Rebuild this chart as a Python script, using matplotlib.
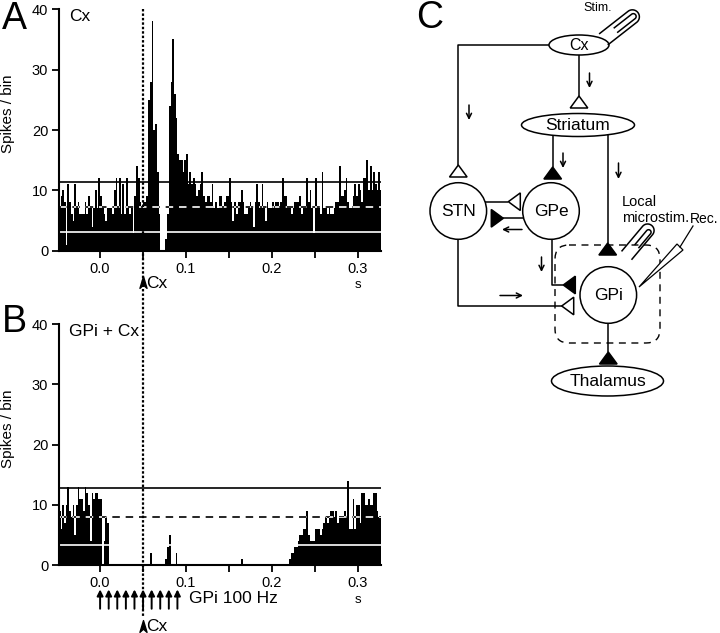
import numpy as np
import matplotlib.pyplot as plt
from matplotlib.patches import Ellipse, Circle, Polygon, FancyBboxPatch
from matplotlib.lines import Line2D
from matplotlib.path import Path
from matplotlib.transforms import blended_transform_factory

plt.rcParams['font.family'] = ['Liberation Sans', 'DejaVu Sans']

# PSTH data: 2 ms bins starting at -50 ms
bin_width = 0.002
t_start = -0.05
cx_counts = [
    8, 7, 9, 10, 8, 1, 11, 8, 6, 5,
    11, 7, 8, 6, 6, 6, 8, 6, 9, 7,
    4, 7, 10, 7, 12, 9, 7, 6, 5, 7,
    7, 7, 6, 10, 12, 7, 12, 6, 11, 6,
    12, 7, 6, 7, 3, 9, 14, 12, 8, 7,
    8, 8, 9, 25, 28, 38, 20, 21, 13, 6,
    0, 0, 0, 2, 6, 24, 28, 35, 26, 22,
    16, 15, 15, 13, 15, 16, 11, 13, 11, 12,
    11, 9, 10, 11, 13, 9, 8, 9, 9, 8,
    11, 7, 8, 7, 9, 9, 7, 8, 9, 9,
    12, 8, 5, 8, 6, 8, 8, 10, 8, 6,
    6, 7, 8, 7, 4, 8, 11, 8, 7, 11,
    7, 5, 8, 7, 7, 8, 7, 8, 8, 7,
    8, 12, 9, 9, 7, 7, 6, 7, 8, 8,
    8, 9, 6, 7, 7, 12, 8, 10, 7, 3,
    12, 7, 7, 6, 13, 7, 7, 6, 7, 6,
    6, 7, 8, 8, 14, 9, 9, 10, 12, 8,
    7, 7, 9, 11, 9, 11, 10, 8, 12, 12,
    15, 10, 14, 10, 13, 11, 10, 13, 10, 13,
]
gpi_cx_counts = [
    9, 9, 6, 10, 7, 10, 13, 9, 8, 10,
    5, 10, 13, 11, 11, 9, 13, 12, 10, 4,
    12, 11, 12, 12, 11, 11, 0, 4, 8, 7,
    0, 0, 0, 0, 0, 0, 0, 0, 0, 0,
    0, 0, 0, 0, 0, 0, 0, 0, 0, 0,
    0, 0, 0, 0, 2, 0, 0, 0, 0, 0,
    0, 0, 0, 1, 3, 5, 0, 0, 0, 2,
    0, 0, 0, 0, 0, 0, 0, 0, 0, 0,
    0, 0, 0, 0, 0, 0, 0, 0, 0, 0,
    0, 0, 0, 0, 0, 0, 0, 0, 0, 0,
    0, 0, 0, 0, 0, 0, 0, 1, 0, 0,
    0, 0, 0, 0, 0, 0, 0, 0, 0, 0,
    0, 0, 0, 0, 0, 0, 0, 0, 0, 0,
    0, 0, 0, 0, 0, 1, 2, 2, 3, 3,
    4, 5, 5, 6, 6, 9, 5, 4, 4, 4,
    6, 6, 6, 5, 6, 7, 8, 7, 8, 9,
    9, 8, 9, 7, 8, 8, 8, 9, 8, 14,
    6, 6, 11, 6, 10, 10, 7, 12, 12, 10,
    10, 11, 10, 10, 12, 12, 9, 8, 8, 7,
]
cx_upper, cx_mean, cx_lower = 11.4, 7.3, 3.1
gpi_upper, gpi_mean, gpi_lower = 12.8, 8.05, 3.35
cx_time = 0.05
gpi_train = [0.0, 0.01, 0.02, 0.03, 0.04, 0.05, 0.06, 0.07, 0.08, 0.09]
xtick_vals = [0.0, 0.1, 0.2, 0.3]
xtick_labels = ['0.0', '0.1', '0.2', '0.3']
xminor_vals = [0.05, 0.15, 0.25]
ytick_vals = [0, 10, 20, 30, 40]

W, H = 720, 633
fig = plt.figure(figsize=(W / 100, H / 100), dpi=100)


def fig_box(left, top, right, bottom):
    return [left / W, 1 - bottom / H, (right - left) / W, (bottom - top) / H]


axA = fig.add_axes(fig_box(59.3, 9.3, 381, 250.7))
axB = fig.add_axes(fig_box(59.3, 324, 381, 565.3))

arrowhead = Path([(0, 1), (0.6, -1), (0, -0.45), (-0.6, -1), (0, 1)],
                 [Path.MOVETO, Path.LINETO, Path.LINETO, Path.LINETO, Path.CLOSEPOLY])


def psth(ax, counts, upper, mean, lower, title):
    edges = t_start + bin_width * np.arange(len(counts) + 1)
    dash = (0, (4.5, 3.5))
    ax.axhline(mean, color='k', lw=1.2, ls=dash, zorder=1)
    bars = ax.stairs(counts, edges, fill=True, color='k', lw=0, zorder=1.5)
    wl = ax.axhline(mean, color='w', lw=1.2, ls=dash, zorder=2)
    wl.set_clip_path(bars)
    ax.axhline(lower, color='w', lw=1.2, zorder=2)
    ax.axhline(upper, color='k', lw=1.2, zorder=2)
    ax.set_xlim(-0.0475, 0.327)
    ax.set_ylim(0, 40)
    for s in ['top', 'right']:
        ax.spines[s].set_visible(False)
    for s in ['left', 'bottom']:
        ax.spines[s].set_linewidth(1.5)
    ax.set_xticks(xtick_vals)
    ax.set_xticklabels(xtick_labels)
    ax.set_xticks(xminor_vals, minor=True)
    ax.set_yticks(ytick_vals)
    ax.tick_params(which='both', direction='out', length=5, width=1.3,
                   labelsize=10.5, pad=3)
    ax.set_ylabel('Spikes / bin', fontsize=11)
    ax.yaxis.set_label_coords(-0.138, 0.567)
    ax.text(0.03, 0.97, title, transform=ax.transAxes, fontsize=12.5,
            ha='left', va='center')
    tr = blended_transform_factory(ax.transData, ax.transAxes)
    ax.text(0.3, -0.142, 's', transform=tr, ha='center', va='center', fontsize=9.5)
    return tr


trA = psth(axA, cx_counts, cx_upper, cx_mean, cx_lower, 'Cx')
trB = psth(axB, gpi_cx_counts, gpi_upper, gpi_mean, gpi_lower, 'GPi + Cx')

# Cx stimulus markers
axA.plot([cx_time], [-0.13], marker=arrowhead, ms=8.5, color='k', transform=trA, clip_on=False)
axA.text(cx_time + 0.003, -0.135, 'Cx', transform=trA, fontsize=12.5, ha='left', va='center')
axB.plot([cx_time], [-0.25], marker=arrowhead, ms=8.5, color='k', transform=trB, clip_on=False)
axB.text(cx_time + 0.003, -0.255, 'Cx', transform=trB, fontsize=12.5, ha='left', va='center')

# GPi 100 Hz train
for t in gpi_train:
    axB.annotate('', xy=(t, -0.10), xytext=(t, -0.18), xycoords=trB, textcoords=trB,
                 annotation_clip=False,
                 arrowprops=dict(arrowstyle='-|>', lw=1.4, color='k',
                                 mutation_scale=9, shrinkA=0, shrinkB=0))
axB.text(0.104, -0.138, 'GPi 100 Hz', transform=trB, fontsize=12.5, ha='left', va='center')

# dotted line at cortical stimulus through both panels
trF = blended_transform_factory(axA.transData, fig.transFigure)
fig.add_artist(Line2D([cx_time, cx_time], [1 - 9 / H, 1 - 617 / H], transform=trF,
                      color='k', lw=1.6, ls=(0, (1.1, 0.9))))

# panel letters
fig.text(14 / W, 1 - 19 / H, 'A', fontsize=27, ha='center', va='center')
fig.text(14 / W, 1 - 322 / H, 'B', fontsize=27, ha='center', va='center')
fig.text(430 / W, 1 - 18 / H, 'C', fontsize=27, ha='center', va='center')

# ---- panel C: circuit diagram (pixel coordinates) ----
axC = fig.add_axes([0, 0, 1, 1])
axC.set_xlim(0, W)
axC.set_ylim(H, 0)
axC.axis('off')
lw = 1.1

ellipse_nodes = {'Cx': ((579, 45), 60, 20, 11.5),
                 'Striatum': ((578, 125), 113, 23, 12.5),
                 'Thalamus': ((607.5, 381), 112, 30, 12.5)}
circle_nodes = {'STN': (458.3, 211), 'GPe': (551, 211), 'GPi': (608.3, 295)}
radius = 28.3

for name, (c, w, h, fs) in ellipse_nodes.items():
    axC.add_patch(Ellipse(c, w, h, fc='w', ec='k', lw=lw))
    axC.text(c[0], c[1] + 1, name, ha='center', va='center', fontsize=fs)
for name, c in circle_nodes.items():
    axC.add_patch(Circle(c, radius, fc='w', ec='k', lw=lw))
    axC.text(c[0], c[1] + 1, name, ha='center', va='center', fontsize=12.5)

wires = [
    [(549, 45), (458.3, 45), (458.3, 165)],
    [(579, 55), (579, 96)],
    [(552.7, 135), (552.7, 167)],
    [(607.7, 134), (607.7, 243)],
    [(485, 201.7), (508.3, 201.7)],
    [(524, 218.3), (503.3, 218.3)],
    [(551.5, 239), (551.5, 285), (563.3, 285)],
    [(458.3, 239.3), (458.3, 306), (561.7, 306)],
    [(608.3, 323.3), (608.3, 352)],
]
for wpts in wires:
    xs, ys = zip(*wpts)
    axC.plot(xs, ys, color='k', lw=lw, solid_capstyle='butt')

# synapses: apex, direction to base, filled?
synapses = [
    ((458.3, 165), (0, 1), False),
    ((579, 96), (0, 1), False),
    ((552.7, 167), (0, 1), True),
    ((607.7, 243), (0, 1), True),
    ((508.3, 201.7), (1, 0), False),
    ((503.3, 218.3), (-1, 0), True),
    ((563.3, 285), (1, 0), True),
    ((561.7, 306), (1, 0), False),
    ((608.3, 352), (0, 1), True),
]
for (ax_, ay), (dx, dy), filled in synapses:
    size, half = 12, 8.8
    bx, by = ax_ + dx * size, ay + dy * size
    px, py = -dy, dx
    pts = [(ax_, ay), (bx + px * half, by + py * half), (bx - px * half, by - py * half)]
    axC.add_patch(Polygon(pts, closed=True, fc='k' if filled else 'w', ec='k', lw=lw))

flow_arrows = [
    ((469, 105), (469, 120)),
    ((589.5, 73), (589.5, 88)),
    ((563, 153), (563, 168)),
    ((618.5, 163), (618.5, 179)),
    ((522, 229.5), (502, 229.5)),
    ((541.5, 257), (541.5, 272)),
    ((500, 295.5), (523, 295.5)),
]
for start, end in flow_arrows:
    axC.annotate('', xy=end, xytext=start,
                 arrowprops=dict(arrowstyle='->', lw=1.1, color='k',
                                 mutation_scale=9, shrinkA=0, shrinkB=0))

axC.add_patch(FancyBboxPatch((555, 245), 105, 98,
                             boxstyle='round,pad=0,rounding_size=14',
                             fill=False, ec='k', lw=1.0, ls=(0, (5, 4))))


def hairpin(base, angle, length, half_w):
    th = np.deg2rad(angle)
    s = np.linspace(-np.pi / 2, np.pi / 2, 30)
    loc = np.vstack([[0, -half_w],
                     np.c_[length + half_w * np.cos(s), half_w * np.sin(s)],
                     [0, half_w]])
    ux, uy = np.cos(th), -np.sin(th)
    vx, vy = np.sin(th), np.cos(th)
    x = base[0] + loc[:, 0] * ux + loc[:, 1] * vx
    y = base[1] + loc[:, 0] * uy + loc[:, 1] * vy
    axC.plot(x, y, color='k', lw=lw)


# stimulating electrode at Cx
hairpin((604, 39), 38, 36, 7)
hairpin((616, 30), 38, 22, 2.8)
axC.text(598, 8, 'Stim.', ha='center', va='center', fontsize=9)

# local microstimulation electrode at GPi
hairpin((627, 255), 50, 32, 6.5)
hairpin((637, 246), 50, 18, 2.5)
axC.text(622, 202, 'Local', ha='left', va='center', fontsize=10.5)
axC.text(622, 218, 'microstim.', ha='left', va='center', fontsize=10.5)

# recording electrode
axC.add_patch(Polygon([(639, 287), (677, 244), (683, 250)], closed=True,
                      fc='w', ec='k', lw=0.9))
axC.plot([680, 693], [247, 226], color='k', lw=0.9)
axC.text(704, 219, 'Rec.', ha='center', va='center', fontsize=10)

fig.savefig('out.png', dpi=100)
